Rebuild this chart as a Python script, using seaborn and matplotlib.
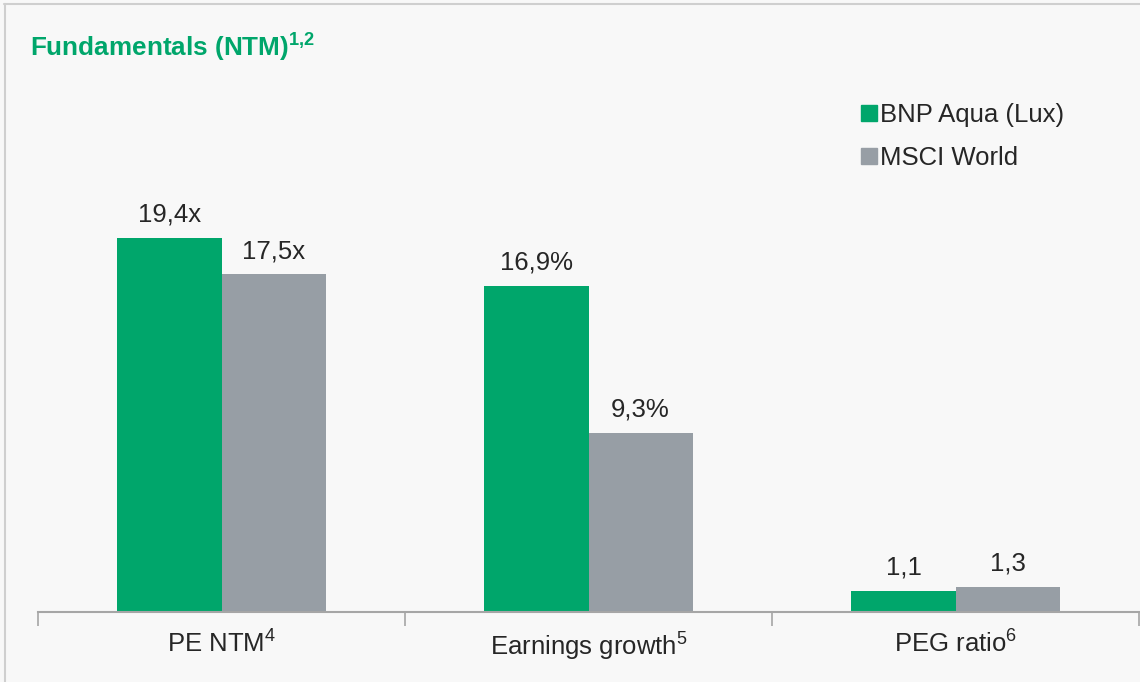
import numpy as np
import pandas as pd
import matplotlib
matplotlib.use("Agg")
import matplotlib.pyplot as plt
import seaborn as sns
from matplotlib.lines import Line2D

# ==========================
# Data
# ==========================

categories = ["PE NTM$^{4}$", "Earnings growth$^{5}$", "PEG ratio$^{6}$"]
series = ["BNP Aqua (Lux)", "MSCI World"]
bnp_values = [19.4, 16.9, 1.1]
msci_values = [17.5, 9.3, 1.3]
bnp_labels = ["19,4x", "16,9%", "1,1"]
msci_labels = ["17,5x", "9,3%", "1,3"]

df = pd.DataFrame({
    "category": categories * 2,
    "series": [series[0]] * 3 + [series[1]] * 3,
    "value": bnp_values + msci_values
})

# ==========================
# Style
# ==========================

sns.set_style("white")
plt.rcParams["font.family"] = ["Liberation Sans", "DejaVu Sans"]
plt.rcParams["mathtext.fontset"] = "custom"
plt.rcParams["mathtext.rm"] = "Liberation Sans"
plt.rcParams["mathtext.bf"] = "Liberation Sans:bold"

bg = "#f8f8f8"
green = "#00a66b"
grey = "#979ea5"
text_col = "#262626"

fig = plt.figure(figsize=(11.4, 6.82), dpi=100, facecolor=bg)
ax = fig.add_axes([38 / 1140, 70 / 682, 1101 / 1140, 463 / 682])
ax.set_facecolor(bg)

sns.barplot(
    data=df,
    x="category",
    y="value",
    hue="series",
    palette=[green, grey],
    width=0.567,
    saturation=1,
    linewidth=0,
    ax=ax
)

ax.set_xlim(-0.5, 2.5)
ax.set_ylim(0, 24)

for container, labels in zip(ax.containers, [bnp_labels, msci_labels]):
    ax.bar_label(container, labels=labels, padding=8,
                 fontsize=18.5, color=text_col)

# ==========================
# Axes
# ==========================

for side in ["top", "right", "left"]:
    ax.spines[side].set_visible(False)
ax.spines["bottom"].set_color("#a6a6a6")
ax.spines["bottom"].set_linewidth(1.5)

ax.set_yticks([])
ax.set_xlabel("")
ax.set_ylabel("")
ax.tick_params(axis="x", which="major", length=0, pad=12,
               labelsize=18.5, labelcolor=text_col)
ax.set_xticks([-0.5, 0.5, 1.5, 2.5], minor=True)
ax.tick_params(axis="x", which="minor", bottom=True, length=10, width=1.2,
               color="#a6a6a6", direction="out")

# ==========================
# Legend
# ==========================

handles = [
    Line2D([0], [0], marker="s", linestyle="", markersize=11,
           markerfacecolor=green, markeredgecolor=green),
    Line2D([0], [0], marker="s", linestyle="", markersize=11,
           markerfacecolor=grey, markeredgecolor=grey),
]
ax.legend(
    handles,
    series,
    loc="upper left",
    bbox_to_anchor=(838 / 1140, 1 - 80 / 682),
    bbox_transform=fig.transFigure,
    frameon=False,
    fontsize=18.5,
    handlelength=0.6,
    handletextpad=0.15,
    labelspacing=0.75,
    labelcolor=text_col
)

# ==========================
# Title and frame
# ==========================

fig.text(30 / 1140, 1 - 56 / 682, "Fundamentals (NTM)$^{\\mathbf{1{,}2}}$",
         fontsize=18.8, fontweight="bold", color=green, ha="left", va="baseline")

fig.add_artist(Line2D([4 / 1140, 1], [1 - 4 / 682, 1 - 4 / 682],
                      transform=fig.transFigure, color="#cfcfcf", lw=1.5))
fig.add_artist(Line2D([5 / 1140, 5 / 1140], [0, 1 - 4 / 682],
                      transform=fig.transFigure, color="#cfcfcf", lw=1.5))

plt.savefig("out.png", dpi=100, facecolor=bg)
plt.close()
